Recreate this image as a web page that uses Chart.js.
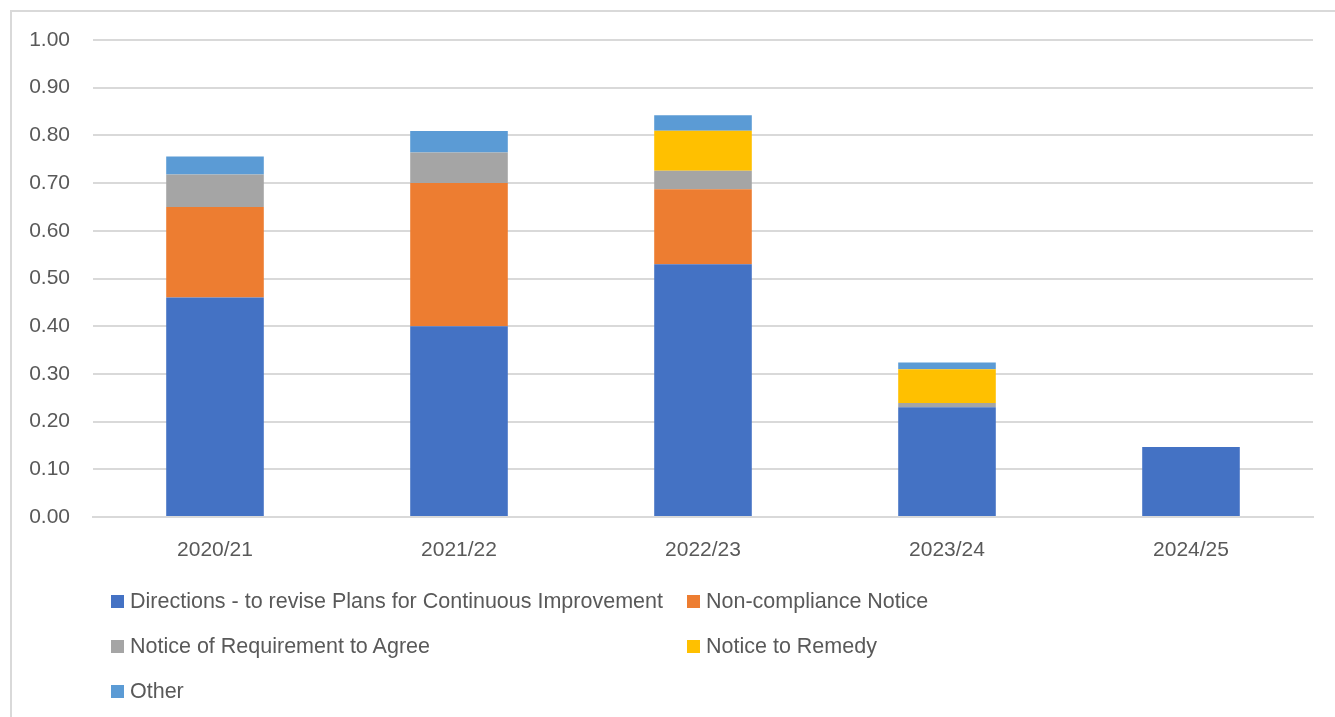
<!DOCTYPE html>
<html>
<head>
<meta charset="utf-8">
<script src="https://cdn.jsdelivr.net/npm/chart.js@4"></script>
<style>
  html, body { margin: 0; padding: 0; background: #fff; }
  body { width: 1335px; height: 717px; position: relative; overflow: hidden; font-family: "Liberation Sans", Arial, sans-serif; }
  #frame { position: absolute; left: 10px; top: 10px; width: 1400px; height: 800px; border: 2px solid #d9d9d9; box-sizing: border-box; }
  #wrap { position: absolute; left: 0; top: 0; width: 1335px; height: 717px; }
  #legend { position: absolute; left: 111px; top: 589px; width: 1200px; }
  .item { position: absolute; display: flex; align-items: center; color: #595959; font-size: 21.5px; white-space: nowrap; }
  .box { width: 13px; height: 13px; margin-right: 6px; }
</style>
</head>
<body>
<div id="frame"></div>
<div id="wrap"><canvas id="chart"></canvas></div>
<div id="legend"></div>
<script>
const years = ['2020/21', '2021/22', '2022/23', '2023/24', '2024/25']
const directions = [0.46, 0.40, 0.53, 0.23, 0.147]
const nonCompliance = [0.19, 0.30, 0.157, 0, 0]
const requirementToAgree = [0.068, 0.064, 0.039, 0.009, 0]
const noticeToRemedy = [0, 0, 0.084, 0.071, 0]
const other = [0.038, 0.045, 0.0325, 0.014, 0]

const seriesNames = ['Directions - to revise Plans for Continuous Improvement', 'Non-compliance Notice', 'Notice of Requirement to Agree', 'Notice to Remedy', 'Other']
const seriesColors = ['#4472c4', '#ed7d31', '#a5a5a5', '#ffc000', '#5b9bd5']
const seriesValues = [directions, nonCompliance, requirementToAgree, noticeToRemedy, other]

const textColor = '#595959'
const gridColor = '#d9d9d9'

let datasets = seriesNames.map(function(name, i) {
    return {
        label: name,
        data: seriesValues[i],
        backgroundColor: seriesColors[i],
        borderWidth: 0,
        categoryPercentage: 1,
        barPercentage: 0.4
    }
})

let ctx = document.getElementById('chart').getContext('2d')
new Chart(ctx, {
    type: 'bar',
    data: { labels: years, datasets: datasets },
    options: {
        responsive: true,
        maintainAspectRatio: false,
        animation: false,
        layout: { padding: { left: 0, right: 22, top: 40, bottom: 140 } },
        plugins: {
            legend: { display: false },
            tooltip: { enabled: false }
        },
        scales: {
            x: {
                stacked: true,
                grid: { display: false },
                border: { color: gridColor, width: 2 },
                ticks: { color: textColor, font: { size: 21, family: '"Liberation Sans", Arial' }, padding: 13 },
                afterFit: function(scale) { scale.height = 60 }
            },
            y: {
                stacked: true,
                min: 0,
                max: 1,
                ticks: {
                    stepSize: 0.1,
                    color: textColor,
                    padding: 23,
                    font: { size: 21, family: '"Liberation Sans", Arial' },
                    callback: function(v) { return Number(v).toFixed(2) }
                },
                grid: { color: gridColor, lineWidth: 2, drawTicks: false },
                border: { display: false },
                afterFit: function(scale) { scale.width = 93 }
            }
        }
    }
})

// legend in two columns, like the original
let legend = document.getElementById('legend')
seriesNames.forEach(function(name, i) {
    let item = document.createElement('div')
    item.className = 'item'
    item.style.left = (i % 2 === 0 ? 0 : 576) + 'px'
    item.style.top = (Math.floor(i / 2) * 45) + 'px'
    item.innerHTML = '<span class="box" style="background:' + seriesColors[i] + '"></span><span>' + name + '</span>'
    legend.appendChild(item)
})
</script>
</body>
</html>
